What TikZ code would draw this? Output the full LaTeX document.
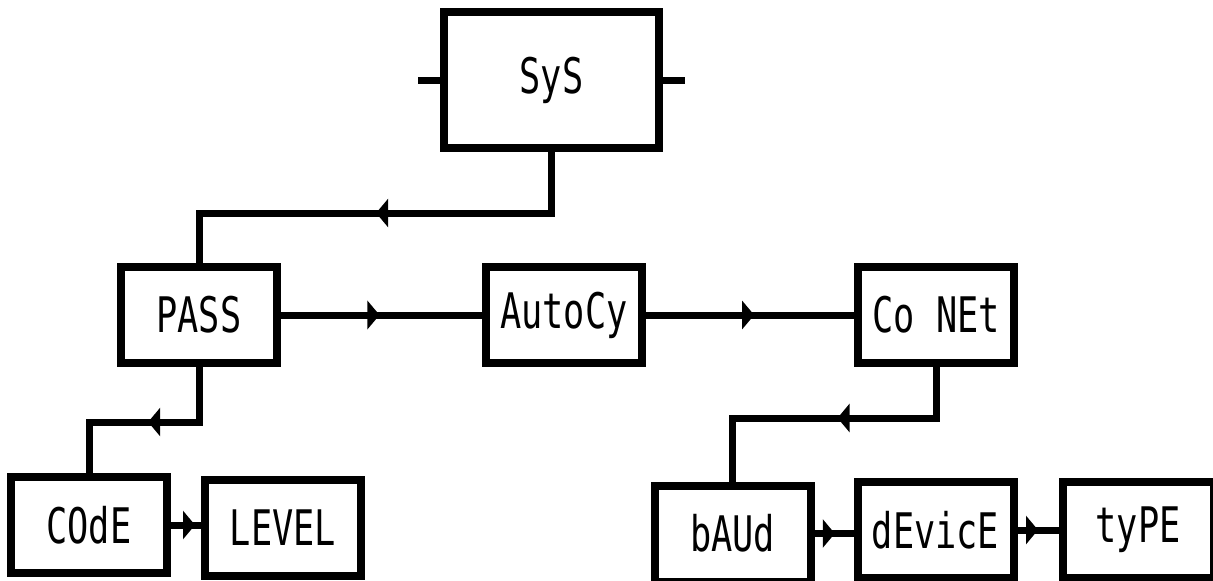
\documentclass[tikz,border=0pt]{standalone}
\usepackage{fontspec}
\newfontfamily\lcdfont[FakeStretch=0.72]{DejaVu Sans Mono}
\usetikzlibrary{positioning,arrows.meta,decorations.markings}

\begin{document}
\begin{tikzpicture}[x=1pt,y=-1pt,
        box/.style={draw,line width=8pt,minimum width=156pt,minimum height=96pt,inner sep=0pt,
            font=\lcdfont\fontsize{49}{49}\selectfont},
        wire/.style={line width=7pt},
        flow/.style={wire,postaction={decorate},decoration={markings,
            mark=at position #1 with {\arrow{Triangle[length=12pt,width=28pt]}}}},
        flow/.default=0.5]
        \path[use as bounding box,fill=white] (0,0) rectangle (1213,581);
        % top
        \node[box,minimum width=215pt,minimum height=136pt] (sys) at (551.5,80) {SyS};
        \draw[wire] (sys.west) -- ++(-22,0);
        \draw[wire] (sys.east) -- ++(22,0);
        % middle row
        \node[box] (pass) at (199,315) {PASS};
        \node[box,right=201pt of pass] (autocy) {AutoCy};
        \node[box,right=208pt of autocy] (conet) {Co NEt};
        % bottom rows
        \node[box] (code) at (89,525) {COdE};
        \node[box,right=30pt of code,yshift=-3pt] (level) {LEVEL};
        \node[box] (baud) at (732.5,533.5) {bAUd};
        \node[box,right=39pt of baud,yshift=3.5pt] (device) {dEvicE};
        \node[box,minimum width=151pt,right=41pt of device] (type) {tyPE};
        % connectors
        \draw[flow=0.51] (sys.south) -- ++(0,61) -| (pass.north);
        \draw[flow=0.49] (pass) -- (autocy);
        \draw[flow=0.52] (autocy) -- (conet);
        \draw[flow=0.49] (pass.south) -- ++(0,55) -| (code.north);
        \draw[flow=0.8] (code.east) -- (code.east -| level.west);
        \draw[flow=0.47] (conet.south) -- ++(0,51) -| (baud.north);
        \draw[flow=0.52] (baud.east) -- (baud.east -| device.west);
        \draw[flow=0.5] (device) -- (type);
    \end{tikzpicture}
\end{document}
